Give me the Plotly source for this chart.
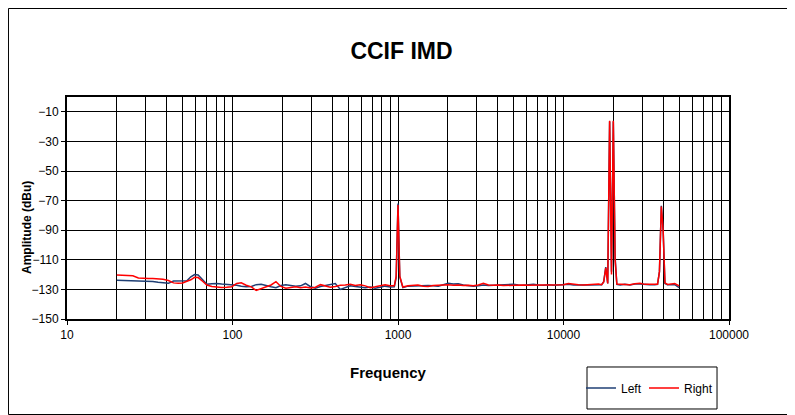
import plotly.graph_objects as go

freq = [20, 21.5, 23, 25, 27, 29, 31, 33, 35.5, 38, 41, 44, 47, 50, 53, 56, 59, 62, 66, 70,
        75, 80, 86, 92, 99, 106, 113, 121, 130, 139, 149, 160, 171, 183, 196, 210, 225, 241,
        258, 276, 296, 317, 340, 364, 390, 418, 448, 480, 515, 552, 592, 634, 680, 728, 780,
        836, 896, 950, 975, 1000, 1025, 1070, 1150, 1230, 1320, 1420, 1520, 1630, 1750, 1880,
        2010, 2160, 2310, 2480, 2660, 2850, 3060, 3280, 3520, 3770, 4040, 4330, 4650, 4980,
        5340, 5730, 6140, 6580, 7060, 7570, 8110, 8700, 9330, 10000, 10700, 11500, 12300,
        13200, 14200, 15200, 16300, 17000, 17500, 18000, 18500, 19000, 19500, 20000, 20500,
        21000, 22000, 23500, 25200, 27000, 29000, 31000, 33200, 35600, 37000, 38000, 39000,
        40000, 41000, 42500, 44500, 47000, 50000]

right = [-120.3, -120.4, -120.5, -120.8, -122.3, -122.6, -122.6, -122.6, -122.8, -123.2,
         -124.0, -125.6, -125.9, -125.6, -124.5, -123.5, -121.8, -122.0, -124.5, -127.0,
         -128.0, -128.5, -128.7, -128.6, -128.2, -126.0, -125.5, -127.2, -128.3, -130.7,
         -129.5, -128.4, -127.0, -124.8, -128.0, -129.2, -128.6, -128.2, -128.8, -128.4,
         -129.0, -128.5, -126.8, -127.8, -128.6, -128.0, -127.2, -127.0, -126.6, -127.4,
         -126.8, -127.6, -128.8, -128.2, -127.4, -126.8, -127.6, -127.6, -121.0, -73.0,
         -121.0, -128.4, -127.6, -127.2, -127.0, -127.8, -128.0, -127.4, -127.2, -127.0,
         -126.8, -127.2, -127.0, -127.4, -127.2, -127.6, -127.0, -125.8, -127.0, -127.2,
         -127.0, -127.4, -127.2, -127.0, -127.2, -127.0, -127.2, -127.0, -126.8, -127.0,
         -127.0, -126.8, -127.0, -126.8, -126.0, -126.6, -126.8, -127.0, -126.8, -126.6,
         -126.4, -126.8, -125.0, -115.5, -126.0, -16.0, -120.0, -16.0, -110.0, -126.4,
         -126.6, -126.4, -126.8, -126.2, -125.9, -126.6, -126.6, -126.4, -126.6, -118.0,
         -74.0, -90.0, -125.6, -126.6, -126.4, -126.0, -127.6]

left = [-123.8, -123.9, -124.3, -124.5, -124.6, -124.7, -124.7, -124.6, -125.2, -125.6,
        -125.9, -124.4, -124.3, -124.3, -124.2, -121.5, -120.0, -120.2, -123.5, -126.5,
        -126.2, -126.0, -126.4, -126.5, -126.6, -127.2, -127.8, -128.2, -128.0, -126.8,
        -126.5, -127.6, -128.2, -128.8, -127.4, -126.8, -127.2, -127.8, -127.6, -126.0,
        -128.2, -129.2, -128.0, -127.2, -126.4, -126.0, -130.0, -128.6, -127.6, -128.0,
        -128.4, -128.9, -128.4, -129.2, -128.6, -127.8, -128.4, -128.2, -122.0, -72.0,
        -121.5, -128.8, -127.8, -127.6, -127.6, -127.4, -127.4, -127.6, -127.8, -126.8,
        -125.8, -126.4, -126.2, -127.0, -127.6, -127.8, -127.6, -127.0, -127.4, -127.2,
        -127.4, -127.0, -126.8, -126.6, -127.0, -127.2, -126.8, -126.6, -127.0, -127.2,
        -126.8, -127.2, -127.0, -126.8, -126.6, -127.0, -126.8, -127.0, -127.0, -126.8,
        -126.6, -126.8, -124.8, -115.0, -126.0, -16.5, -118.0, -16.5, -108.0, -126.6,
        -127.0, -126.6, -127.0, -126.4, -126.4, -126.8, -126.8, -126.8, -126.6, -118.0,
        -73.5, -90.0, -126.0, -126.8, -126.6, -126.8, -128.8]

y_ticks = [-150, -130, -110, -90, -70, -50, -30, -10]

FONT = "Liberation Sans, Arial, sans-serif"

fig = go.Figure()
fig.add_trace(go.Scatter(x=freq, y=left, mode="lines", name="Left", legend="legend",
                         line=dict(color="#1f3f74", width=1.5)))
fig.add_trace(go.Scatter(x=freq, y=right, mode="lines", name="Right", legend="legend2",
                         line=dict(color="#ff0000", width=1.5)))

leg_common = dict(orientation="h", y=-0.311, xanchor="left", yanchor="middle",
                  bgcolor="rgba(0,0,0,0)", borderwidth=0,
                  font=dict(family=FONT, size=12, color="black"), itemwidth=30)

fig.update_layout(
    width=787, height=407,
    margin=dict(l=59, r=66, t=89, b=96),
    paper_bgcolor="white", plot_bgcolor="white",
    font=dict(family=FONT, size=12, color="black"),
    showlegend=True,
    legend=dict(x=0.7764, **leg_common),
    legend2=dict(x=0.8716, **leg_common),
    title=dict(text="CCIF IMD", x=0.5, xref="container", xanchor="center",
               y=0.894, yanchor="middle",
               font=dict(family=FONT, size=23, weight="bold", color="black")),
)

fig.update_xaxes(
    type="log", range=[1, 5], dtick=1, tick0=0, tickformat="d",
    showgrid=True, gridcolor="black", gridwidth=1,
    minor=dict(dtick="D1", showgrid=True, gridcolor="black", gridwidth=1, ticks=""),
    showline=True, linecolor="black", linewidth=2, mirror=True,
    ticks="outside", ticklen=4, tickcolor="black",
    tickfont=dict(family=FONT, size=12, color="black"), zeroline=False,
)
fig.update_yaxes(
    range=[-150, 0], tickmode="array", tickvals=y_ticks,
    showgrid=True, gridcolor="black", gridwidth=1,
    showline=True, linecolor="black", linewidth=2, mirror=True,
    ticks="outside", ticklen=4, tickcolor="black",
    tickfont=dict(family=FONT, size=12, color="black"), zeroline=False,
)

fig.add_annotation(text="<b>Frequency</b>", xref="paper", yref="paper",
                   x=0.4857, y=-0.239, xanchor="center", yanchor="middle",
                   showarrow=False, font=dict(family=FONT, size=15, color="black"))
fig.add_annotation(text="<b>Amplitude (dBu)</b>", xref="paper", yref="paper",
                   x=-0.0604, y=0.41, xanchor="center", yanchor="middle", textangle=-90,
                   showarrow=False, font=dict(family=FONT, size=12, color="black"))

# legend box
fig.add_shape(type="rect", xref="paper", yref="paper", x0=0.7855, x1=0.9819,
              y0=-0.4054, y1=-0.2162, line=dict(color="black", width=1))
# outer chart frame
fig.add_shape(type="rect", xref="paper", yref="paper", x0=-0.0884, x1=1.0989,
              y0=-0.4302, y1=1.3986, line=dict(color="black", width=1))

fig.write_html("out.html")
